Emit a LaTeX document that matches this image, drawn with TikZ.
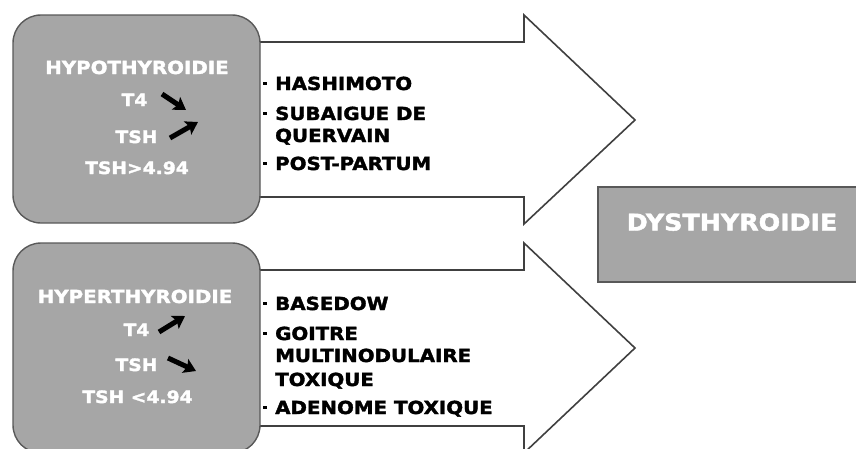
\documentclass[tikz,border=0pt]{standalone}
\usepackage{fontspec}
\usetikzlibrary{arrows.meta}
\newfontfamily\heavy{DejaVu Sans Bold}[FakeStretch=1.1, FakeBold=2]
\definecolor{boxgray}{HTML}{A6A6A6}
\definecolor{edgegray}{HTML}{595959}
\definecolor{arrowedge}{HTML}{404040}
\tikzset{
  bigarrow/.style={draw=arrowedge, line width=1.6pt, fill=white, line join=miter},
  gbox/.style={draw=edgegray, line width=1.4pt, fill=boxgray, rounded corners=28pt, inner sep=0pt},
  sqbox/.style={draw=edgegray, line width=1.4pt, fill=boxgray, inner sep=0pt},
  wtitle/.style={text=white, font=\heavy\fontsize{18}{22}\selectfont, anchor=base, inner sep=0pt},
  wline/.style={text=white, font=\heavy\fontsize{17}{22}\selectfont, anchor=base, inner sep=0pt},
  trend/.style={draw=black, line width=5pt, -{Stealth[length=12pt,width=15pt,inset=2.5pt]}},
  item/.style={text=black, font=\heavy\fontsize{18}{22}\selectfont, anchor=base west, inner sep=0pt},
  bul/.style={rectangle, fill=black, inner sep=0pt, minimum size=3.6pt},
  dystext/.style={text=white, font=\heavy\fontsize{23}{26}\selectfont, anchor=base, inner sep=0pt}
}
\begin{document}
\begin{tikzpicture}[x=1pt,y=-1pt]
\useasboundingbox (0,0) rectangle (856,448);
% big arrows
\draw[bigarrow] (200,42) -- (524,42) -- (524,15) -- (635,120) -- (524,224) -- (524,197) -- (200,197) -- cycle;
\draw[bigarrow] (200,270) -- (524,270) -- (524,243) -- (635,348) -- (524,453) -- (524,426) -- (200,426) -- cycle;
% left boxes
\node[gbox, minimum width=247pt, minimum height=208pt] (hypo) at (136.5,119) {};
\node[gbox, minimum width=247pt, minimum height=210pt] (hyper) at (136.5,348) {};
% right box
\node[sqbox, minimum width=272pt, minimum height=95pt] (dys) at (734,234.5) {};
\node[dystext] (dyst) at (732,230.5) {DYSTHYROIDIE};
% hypothyroidie text
\node[wtitle] (t1) at (137,74) {HYPOTHYROIDIE};
\node[wline] (t2) at (134.5,106) {T4};
\node[wline] (t3) at (136.5,143) {TSH};
\node[wline] (t4) at (137,174) {TSH>4.94};
\coordinate (a2s) at (162,94);  \coordinate (a2e) at (186,110);
\coordinate (a3s) at (170,138); \coordinate (a3e) at (198,122);
\draw[trend] (a2s) -- (a2e);
\draw[trend] (a3s) -- (a3e);
% hyperthyroidie text
\node[wtitle] (u1) at (135,303) {HYPERTHYROIDIE};
\node[wline] (u2) at (136.5,336) {T4};
\node[wline] (u3) at (136.5,371) {TSH};
\node[wline] (u4) at (137.5,403) {TSH <4.94};
\coordinate (c2s) at (159,332); \coordinate (c2e) at (185,316);
\coordinate (c3s) at (168,358); \coordinate (c3e) at (196,371);
\draw[trend] (c2s) -- (c2e);
\draw[trend] (c3s) -- (c3e);
% top list
\node[bul] (b1) at (265,83.5) {};
\node[item] (i1) at (275,90) {HASHIMOTO};
\node[bul] (b2) at (265,113.5) {};
\node[item] (i2) at (275,120) {SUBAIGUE DE};
\node[item] (i2b) at (275,142) {QUERVAIN};
\node[bul] (b3) at (265,163.5) {};
\node[item] (i3) at (275,170) {POST-PARTUM};
% bottom list
\node[bul] (b4) at (265,303.5) {};
\node[item] (j1) at (275,310) {BASEDOW};
\node[bul] (b5) at (265,333.5) {};
\node[item] (j2) at (275,340) {GOITRE};
\node[item] (j2b) at (275,362) {MULTINODULAIRE};
\node[item] (j2c) at (275,386) {TOXIQUE};
\node[bul] (b6) at (265,407.5) {};
\node[item] (j3) at (275,414) {ADENOME TOXIQUE};
\end{tikzpicture}
\end{document}
